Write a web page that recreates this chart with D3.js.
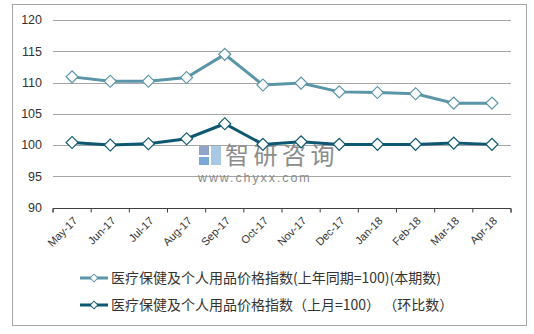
<!DOCTYPE html>
<html lang="zh">
<head>
<meta charset="UTF-8" />
<title>医疗保健及个人用品价格指数</title>
<script src="https://cdnjs.cloudflare.com/ajax/libs/d3/7.8.5/d3.min.js"></script>
<style>
  html, body { margin: 0; padding: 0; background: #fff; }
  svg { display: block; font-family: "Liberation Sans", Arial, "Noto Sans CJK SC", sans-serif; }
</style>
</head>
<body>
<script>
// data
const months = ["May-17", "Jun-17", "Jul-17", "Aug-17", "Sep-17", "Oct-17",
                "Nov-17", "Dec-17", "Jan-18", "Feb-18", "Mar-18", "Apr-18"];
const yoyValues = [110.9, 110.2, 110.2, 110.8, 114.5, 109.6, 109.9, 108.5, 108.4, 108.2, 106.7, 106.7];
const momValues = [100.4, 100.0, 100.2, 101.0, 103.4, 100.1, 100.5, 100.1, 100.1, 100.1, 100.3, 100.1];
const yTicks = [90, 95, 100, 105, 110, 115, 120];
const seriesNames = ["医疗保健及个人用品价格指数(上年同期=100)(本期数)",
                     "医疗保健及个人用品价格指数（上月=100） （环比数）"];
const colors = ["#5a95a8", "#0d5870"];

const W = 534, H = 334;
const plot = { left: 53, right: 511, top: 20, bottom: 207.5 };

const svg = d3.select("body").append("svg")
  .attr("width", W).attr("height", H);

// outer frame
svg.append("rect")
  .attr("x", 12.5).attr("y", 4.5)
  .attr("width", 514).attr("height", 321)
  .attr("fill", "#fff").attr("stroke", "#a6a6a6").attr("stroke-width", 1);

const x = d3.scaleBand().domain(months).range([plot.left, plot.right]);
const y = d3.scaleLinear().domain([90, 120]).range([plot.bottom, plot.top]);

// gridlines
svg.append("g")
  .selectAll("line")
  .data(yTicks.filter(d => d > 90))
  .join("line")
  .attr("x1", plot.left).attr("x2", plot.right)
  .attr("y1", d => Math.round(y(d)) + 0.5).attr("y2", d => Math.round(y(d)) + 0.5)
  .attr("stroke", "#a6a6a6");

// y labels
svg.append("g")
  .selectAll("text")
  .data(yTicks)
  .join("text")
  .attr("x", 42).attr("y", d => y(d))
  .attr("dy", "0.35em")
  .attr("text-anchor", "end")
  .attr("font-size", 12.5)
  .attr("fill", "#333")
  .text(d => d);

// watermark
const wm = svg.append("g");
wm.append("rect").attr("x", 199).attr("y", 146).attr("width", 10).attr("height", 9).attr("fill", "#8fa4c8");
wm.append("rect").attr("x", 199).attr("y", 157).attr("width", 10).attr("height", 8).attr("fill", "#7aa9d8");
wm.append("rect").attr("x", 211).attr("y", 146).attr("width", 10).attr("height", 19).attr("fill", "#a9c8e6");
wm.append("text").attr("x", 225).attr("y", 164)
  .attr("font-size", 24).attr("fill", "#8c8c8c")
  .attr("font-family", "'Noto Sans CJK SC', sans-serif")
  .attr("letter-spacing", 4.5)
  .text("智研咨询");
wm.append("text").attr("x", 198).attr("y", 182)
  .attr("font-size", 12.5).attr("fill", "#8c8c8c")
  .attr("letter-spacing", 1.9)
  .text("www.chyxx.com");

// x axis
const xAxis = d3.axisBottom(x).tickSize(4).tickSizeOuter(4).tickFormat("");
const gx = svg.append("g")
  .attr("transform", `translate(0,${Math.round(plot.bottom) + 0.5})`)
  .call(xAxis);
gx.selectAll("line, path").attr("stroke", "#404040");
gx.selectAll(".tick line").attr("transform", `translate(${-x.bandwidth() / 2},0)`);
gx.append("line")
  .attr("x1", plot.right).attr("x2", plot.right)
  .attr("y1", 0).attr("y2", 4).attr("stroke", "#404040");
gx.select(".domain").attr("d", `M${plot.left},4V0H${plot.right}V4`);

svg.append("g")
  .selectAll("text")
  .data(months)
  .join("text")
  .attr("transform", d => `translate(${x(d) + x.bandwidth() / 2 + 6},${plot.bottom + 14}) rotate(-45)`)
  .attr("text-anchor", "end")
  .attr("font-size", 11)
  .attr("fill", "#333")
  .text(d => d);

// lines
const line = d3.line()
  .x((d, i) => x(months[i]) + x.bandwidth() / 2)
  .y(d => y(d));

[yoyValues, momValues].forEach((vals, k) => {
  svg.append("path")
    .datum(vals)
    .attr("fill", "none")
    .attr("stroke", colors[k])
    .attr("stroke-width", 3)
    .attr("d", line);
  svg.append("g")
    .selectAll("path")
    .data(vals)
    .join("path")
    .attr("d", d3.symbol().type(d3.symbolSquare).size(72))
    .attr("transform", (d, i) => `translate(${x(months[i]) + x.bandwidth() / 2},${y(d)}) rotate(45)`)
    .attr("fill", "#fff")
    .attr("stroke", colors[k])
    .attr("stroke-width", 1.2);
});

// legend
const legend = svg.append("g");
seriesNames.forEach((name, k) => {
  const ly = 278 + k * 27;
  const g = legend.append("g");
  g.append("line")
    .attr("x1", 80).attr("x2", 108)
    .attr("y1", ly).attr("y2", ly)
    .attr("stroke", colors[k]).attr("stroke-width", 3);
  g.append("path")
    .attr("d", d3.symbol().type(d3.symbolSquare).size(30))
    .attr("transform", `translate(94,${ly}) rotate(45)`)
    .attr("fill", "#fff").attr("stroke", colors[k]).attr("stroke-width", 1);
  g.append("text")
    .attr("x", 111).attr("y", ly).attr("dy", "0.35em")
    .attr("font-size", 14).attr("fill", "#333")
    .attr("font-family", "'Noto Sans CJK SC', sans-serif")
    .text(name);
});
</script>
</body>
</html>
